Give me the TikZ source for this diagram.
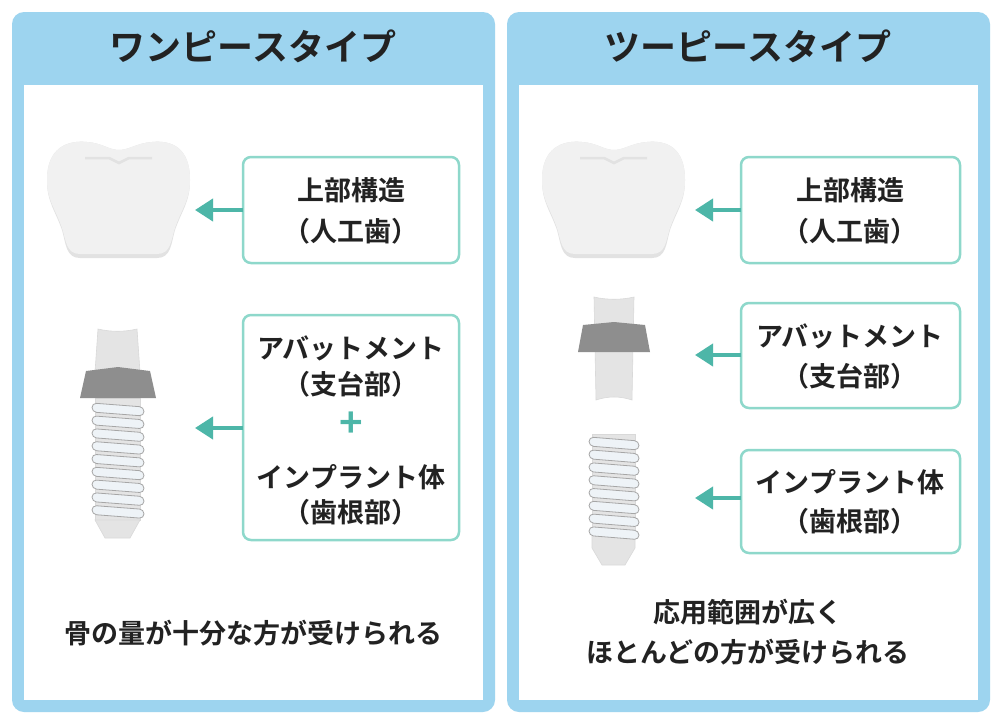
\documentclass[tikz,border=0pt]{standalone}
\usepackage{fontspec}
\newfontfamily\jp{Noto Sans CJK JP Bold}
\usetikzlibrary{arrows.meta}
\definecolor{panel}{HTML}{9DD4EF}
\definecolor{boxc}{HTML}{8ED8CB}
\definecolor{arr}{HTML}{4DB6A8}
\definecolor{crown}{HTML}{F1F1F1}
\definecolor{crownsh}{HTML}{E2E2E2}
\definecolor{post}{HTML}{E4E4E4}
\definecolor{capgray}{HTML}{8E8E8E}
\definecolor{thr}{HTML}{EEF3F7}
\definecolor{txt}{HTML}{222222}
\tikzset{
 lbox/.style={draw=boxc,line width=2.5pt,rounded corners=8pt,fill=white},
 lab/.style={font=\jp\fontsize{27}{30}\selectfont,text=txt},
 head/.style={font=\jp\fontsize{36}{40}\selectfont,text=txt},
 pointer/.style={draw=arr,line width=4pt,-{Triangle[length=18pt,width=22pt]}},
 postst/.style={fill=post,draw=black!15,line width=0.6pt},
 thread/.style={fill=thr,draw=black!35,line width=0.8pt,rounded corners=4.5pt}
}
\newcommand{\crownat}[2]{%
 \begin{scope}[shift={(#1,#2)}]
 \fill[crownsh] (0,40) .. controls (0,8) and (20,0) .. (40,2) .. controls (55,3) and (62,10) .. (72,10) .. controls (82,10) and (90,3) .. (105,2) .. controls (125,0) and (143,8) .. (143,40) .. controls (143,62) and (135,70) .. (128,90) .. controls (124,104) and (124,118) .. (110,118) -- (33,118) .. controls (19,118) and (19,104) .. (15,90) .. controls (8,70) and (0,62) .. (0,40) -- cycle;
 \fill[crown] (0,40) .. controls (0,8) and (20,0) .. (40,2) .. controls (55,3) and (62,10) .. (72,10) .. controls (82,10) and (90,3) .. (105,2) .. controls (125,0) and (143,8) .. (143,40) .. controls (143,60) and (135,68) .. (128,88) .. controls (124,100) and (124,114) .. (110,114) -- (33,114) .. controls (19,114) and (19,100) .. (15,88) .. controls (8,68) and (0,60) .. (0,40) -- cycle;
 \draw[crownsh,line width=2.5pt] (38,18) -- (62,18) -- (72,23) -- (82,18) -- (105,18);
 \end{scope}}
\newcommand{\threads}[4]{% x, firsty, n, width
 \foreach \i in {1,...,#3}{
  \pgfmathsetmacro{\yy}{#2+(\i-1)*12.8}
  \draw[thread] (#1,\yy) -- (#1+#4,\yy+4) -- (#1+#4,\yy+13) -- (#1,\yy+9) -- cycle;
 }}
\begin{document}
\begin{tikzpicture}[x=1pt,y=-1pt]
\useasboundingbox (0,0) rectangle (1000,720);
\fill[white] (0,0) rectangle (1000,720);
% panels
\fill[panel,rounded corners=12pt] (12,12) rectangle (495,712);
\fill[white] (24,85) rectangle (483,700);
\fill[panel,rounded corners=12pt] (507,12) rectangle (990,712);
\fill[white] (519,85) rectangle (978,700);
\node[head] (h1) at (253,46) {ワンピースタイプ};
\node[head] (h2) at (748,46) {ツーピースタイプ};
% left boxes
\draw[lbox] (243,157) rectangle (459,263);
\node[lab] (l1a) at (351,190) {上部構造};
\node[lab] (l1b) at (351,231) {（人工歯）};
\draw[lbox] (243,315) rectangle (459,540);
\node[lab] (l2a) at (351,348) {アバットメント};
\node[lab] (l2b) at (351,384) {（支台部）};
\node[font=\jp\fontsize{40}{40}\selectfont,text=arr] (plus) at (351,425) {+};
\node[lab] (l2c) at (351,477) {インプラント体};
\node[lab] (l2d) at (351,512) {（歯根部）};
\coordinate (la1) at (243,210); \coordinate (lt1) at (195,210);
\coordinate (la2) at (243,428); \coordinate (lt2) at (195,428);
\draw[pointer] (la1) -- (lt1);
\draw[pointer] (la2) -- (lt2);
\node[lab] (lbot) at (253,633) {骨の量が十分な方が受けられる};
% right boxes
\draw[lbox] (741,157) rectangle (960,263);
\node[lab] (r1a) at (850,190) {上部構造};
\node[lab] (r1b) at (850,231) {（人工歯）};
\draw[lbox] (741,303) rectangle (960,408);
\node[lab] (r2a) at (850,336) {アバットメント};
\node[lab] (r2b) at (850,376) {（支台部）};
\draw[lbox] (741,450) rectangle (960,553);
\node[lab] (r3a) at (850,482) {インプラント体};
\node[lab] (r3b) at (850,521) {（歯根部）};
\coordinate (ra1) at (741,210); \coordinate (rt1) at (695,210);
\coordinate (ra2) at (741,355); \coordinate (rt2) at (695,355);
\coordinate (ra3) at (741,498); \coordinate (rt3) at (695,498);
\draw[pointer] (ra1) -- (rt1);
\draw[pointer] (ra2) -- (rt2);
\draw[pointer] (ra3) -- (rt3);
\node[lab] (rb1) at (748,612) {応用範囲が広く};
\node[lab] (rb2) at (748,652) {ほとんどの方が受けられる};
% crowns
\crownat{47}{140}
\crownat{542}{140}
% left implant
\draw[postst] (98,329) .. controls (110,332) and (125,332) .. (137,329) -- (140,372) -- (95,372) -- cycle;
\draw[postst] (95,398) rectangle (140,520);
\draw[postst] (95,520) -- (140,520) -- (130,538) -- (105,538) -- cycle;
\threads{92}{403}{9}{52}
\fill[capgray] (86,371) -- (118,367) -- (150,371) -- (156,398) -- (80,398) -- cycle;
% right implant
\draw[postst] (594,297) .. controls (606,300) and (622,300) .. (634,297) -- (632,400) .. controls (620,396) and (608,396) .. (596,400) -- cycle;
\fill[capgray] (583,325) -- (614,322) -- (645,325) -- (650,352) -- (578,352) -- cycle;
\draw[postst] (592,434) rectangle (635,535);
\draw[postst] (592,535) -- (635,535) -- (635,548) -- (625,565) -- (602,565) -- (592,548) -- cycle;
\threads{589}{437}{8}{50}
\end{tikzpicture}
\end{document}
